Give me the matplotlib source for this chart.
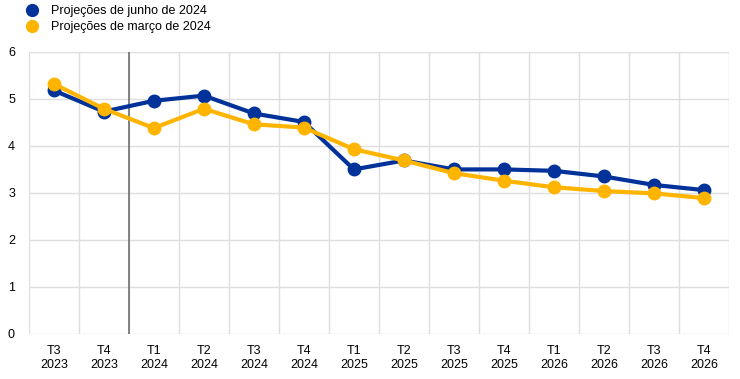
import matplotlib.pyplot as plt
import numpy as np

plt.rcParams['font.family'] = ['Liberation Sans', 'DejaVu Sans']

quarters = ['T3', 'T4', 'T1', 'T2', 'T3', 'T4', 'T1', 'T2', 'T3', 'T4', 'T1', 'T2', 'T3', 'T4']
years = ['2023', '2023', '2024', '2024', '2024', '2024', '2025', '2025',
         '2025', '2025', '2026', '2026', '2026', '2026']
labels = [q + '\n' + y for q, y in zip(quarters, years)]

junho = [5.18, 4.73, 4.96, 5.07, 4.69, 4.51, 3.50, 3.69, 3.50, 3.50, 3.47, 3.35, 3.17, 3.06]
marco = [5.32, 4.79, 4.38, 4.79, 4.46, 4.39, 3.93, 3.69, 3.42, 3.26, 3.12, 3.04, 2.99, 2.89]

blue = '#003299'
yellow = '#FFB400'

fig = plt.figure(figsize=(7.4, 3.79), dpi=100)
ax = fig.add_axes([0.039, 0.119, 0.946, 0.744])

x = np.arange(len(labels))
ax.plot(x, junho, color=blue, lw=3, marker='o', ms=9, label='Projeções de junho de 2024', zorder=3)
ax.plot(x, marco, color=yellow, lw=3, marker='o', ms=9, label='Projeções de março de 2024', zorder=4)

# linha vertical entre T4 2023 e T1 2024
ax.axvline(1.5, color='#6e6e6e', lw=1.2, zorder=2)

ax.set_xlim(-0.5, len(labels) - 0.5)
ax.set_ylim(0, 6)
ax.set_yticks(range(0, 7))
ax.set_xticks(x)
ax.set_xticklabels(labels, fontsize=9)
ax.set_xticks(np.arange(-0.5, len(labels)), minor=True)
ax.tick_params(axis='both', which='both', length=0, labelsize=9)
ax.tick_params(axis='x', pad=8)
ax.tick_params(axis='y', pad=10)
ax.grid(True, axis='y', color='#dedede', lw=1)
ax.grid(True, axis='x', which='minor', color='#dedede', lw=1)
ax.grid(False, axis='x', which='major')
ax.set_axisbelow(True)
for s in ax.spines.values():
    s.set_visible(False)

handles = [plt.Line2D([], [], color=blue, marker='o', ls='none', ms=8.5),
           plt.Line2D([], [], color=yellow, marker='o', ls='none', ms=8.5)]
fig.legend(handles, ['Projeções de junho de 2024', 'Projeções de março de 2024'],
           loc='upper left', bbox_to_anchor=(0.018, 1.016), frameon=False, fontsize=9,
           handletextpad=0.9, labelspacing=0.3, handlelength=1.2)

fig.savefig('out.png', dpi=100)
